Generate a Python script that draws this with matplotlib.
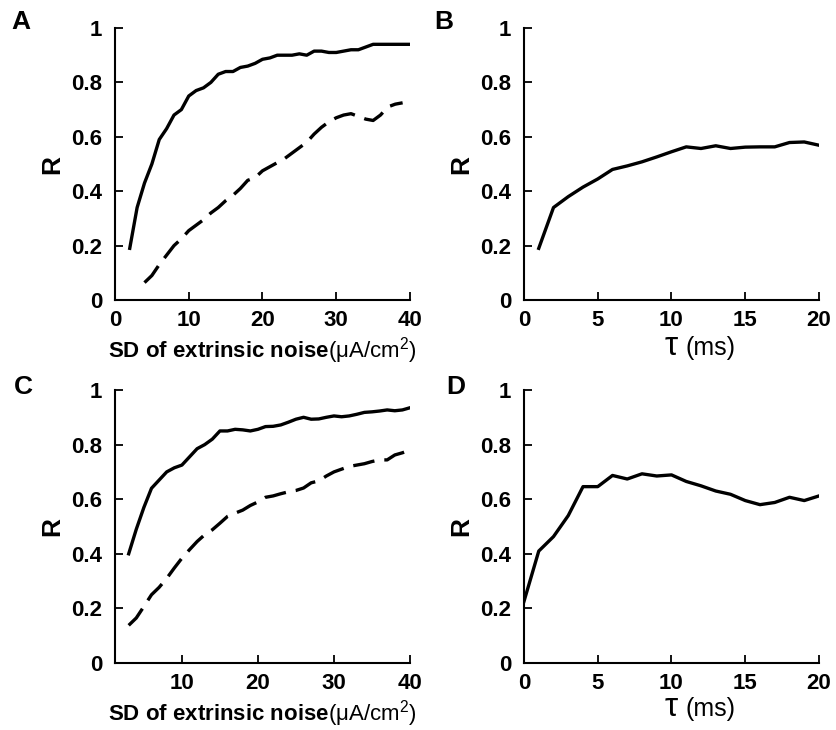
import numpy as np
import matplotlib.pyplot as plt

plt.rcParams['font.family'] = ['Liberation Sans', 'DejaVu Sans']
plt.rcParams['mathtext.fontset'] = 'custom'
plt.rcParams['mathtext.rm'] = 'Liberation Sans'
plt.rcParams['mathtext.bf'] = 'Liberation Sans:bold'
plt.rcParams['mathtext.it'] = 'Liberation Sans:italic'

# panel A: R vs SD of extrinsic noise
a_x_solid = np.arange(2, 41)
a_solid = [0.19, 0.34, 0.43, 0.50, 0.59, 0.63, 0.68, 0.70, 0.75, 0.77,
           0.78, 0.80, 0.83, 0.84, 0.84, 0.855, 0.86, 0.87, 0.885, 0.89,
           0.90, 0.90, 0.90, 0.905, 0.90, 0.915, 0.915, 0.91, 0.91, 0.915,
           0.92, 0.92, 0.93, 0.94, 0.94, 0.94, 0.94, 0.94, 0.94]
a_x_dash = np.arange(4, 40)
a_dash = [0.064, 0.09, 0.13, 0.165, 0.20, 0.225, 0.255, 0.275, 0.295, 0.32,
          0.34, 0.365, 0.385, 0.41, 0.44, 0.45, 0.475, 0.49, 0.505, 0.52,
          0.54, 0.56, 0.58, 0.61, 0.635, 0.655, 0.67, 0.68, 0.685, 0.675,
          0.665, 0.66, 0.68, 0.71, 0.72, 0.725]

# panel B: R vs tau
b_x = np.arange(1, 21)
b_y = [0.19, 0.34, 0.38, 0.415, 0.445, 0.48, 0.493, 0.508, 0.526, 0.545,
       0.563, 0.557, 0.567, 0.557, 0.562, 0.563, 0.563, 0.579, 0.581, 0.569]

# panel C
c_x = np.arange(3, 41)
c_solid = [0.40, 0.49, 0.57, 0.64, 0.67, 0.70, 0.715, 0.725, 0.755, 0.785,
           0.80, 0.82, 0.85, 0.85, 0.856, 0.854, 0.85, 0.856, 0.866, 0.867,
           0.872, 0.882, 0.893, 0.90, 0.893, 0.894, 0.90, 0.905, 0.902, 0.905,
           0.911, 0.918, 0.92, 0.923, 0.927, 0.924, 0.927, 0.935]
c_dash = [0.138, 0.165, 0.207, 0.25, 0.277, 0.31, 0.348, 0.384, 0.415, 0.445,
          0.47, 0.488, 0.512, 0.537, 0.549, 0.56, 0.577, 0.59, 0.607, 0.612,
          0.62, 0.627, 0.632, 0.641, 0.66, 0.667, 0.685, 0.70, 0.71, 0.72,
          0.725, 0.73, 0.738, 0.744, 0.744, 0.762, 0.77, 0.78]

# panel D
d_x = np.arange(0, 21)
d_y = [0.226, 0.41, 0.463, 0.54, 0.646, 0.646, 0.687, 0.674, 0.693, 0.685,
       0.689, 0.665, 0.649, 0.63, 0.618, 0.595, 0.58, 0.588, 0.607, 0.595, 0.612]

yticks = [0, 0.2, 0.4, 0.6, 0.8, 1]
ylabels = ["0", "0.2", "0.4", "0.6", "0.8", "1"]

fig = plt.figure(figsize=(8.37, 7.30), dpi=100)
W, H = 837, 730

def make_ax(l, r, b, t):
    ax = fig.add_axes([l / W, 1 - b / H, (r - l) / W, (b - t) / H])
    for s in ["top", "right"]:
        ax.spines[s].set_visible(False)
    for s in ["left", "bottom"]:
        ax.spines[s].set_linewidth(1.5)
    ax.tick_params(direction="in", length=6, width=1.3, labelsize=16)
    ax.tick_params(axis="y", pad=9)
    ax.tick_params(axis="x", pad=7)
    ax.set_ylim(0, 1)
    ax.set_yticks(yticks)
    ax.set_yticklabels(ylabels, fontweight="bold")
    ax.set_ylabel("R", fontsize=19, fontweight="bold", labelpad=5)
    return ax

lw = 2.4
noise_label = r"$\mathbf{SD\ of\ extrinsic\ noise}$(μA/cm$^2$)"

def tau_label(base_y):
    # tau drawn a bit larger than the "(ms)" part, like the original
    fig.text(671 / W, 1 - base_y / H, r"$\mathrm{\tau}$", fontsize=24,
             ha="center", va="baseline")
    fig.text(686 / W, 1 - base_y / H, "(ms)", fontsize=18,
             ha="left", va="baseline")

axA = make_ax(115, 410, 300, 28)
axA.plot(a_x_solid, a_solid, color="black", lw=lw)
axA.plot(a_x_dash, a_dash, color="black", lw=lw, dashes=(6.5, 3.0))
axA.set_xlim(0, 40)
axA.set_xticks([0, 10, 20, 30, 40])
axA.set_xticklabels(["0", "10", "20", "30", "40"], fontweight="bold")
axA.set_xlabel(noise_label, fontsize=16, labelpad=3)

axB = make_ax(524, 819, 300, 28)
axB.plot(b_x, b_y, color="black", lw=lw)
axB.set_xlim(0, 20)
axB.set_xticks([0, 5, 10, 15, 20])
axB.set_xticklabels(["0", "5", "10", "15", "20"], fontweight="bold")
tau_label(355)

axC = make_ax(115, 410, 663, 390)
axC.plot(c_x, c_solid, color="black", lw=lw)
axC.plot(c_x, c_dash, color="black", lw=lw, dashes=(6.5, 3.0))
axC.set_xlim(1.2, 40)
axC.set_xticks([10, 20, 30, 40])
axC.set_xticklabels(["10", "20", "30", "40"], fontweight="bold")
axC.set_xlabel(noise_label, fontsize=16, labelpad=3)

axD = make_ax(524, 819, 663, 390)
axD.plot(d_x, d_y, color="black", lw=lw)
axD.set_xlim(0, 20)
axD.set_xticks([0, 5, 10, 15, 20])
axD.set_xticklabels(["0", "5", "10", "15", "20"], fontweight="bold")
tau_label(716)

# panel letters
for letter, px, py in [("A", 11, 10), ("B", 434, 10), ("C", 14, 375), ("D", 446, 375)]:
    fig.text(px / W, 1 - py / H, letter, fontsize=19, fontweight="bold",
             ha="left", va="top")

plt.savefig("out.png", dpi=100)
